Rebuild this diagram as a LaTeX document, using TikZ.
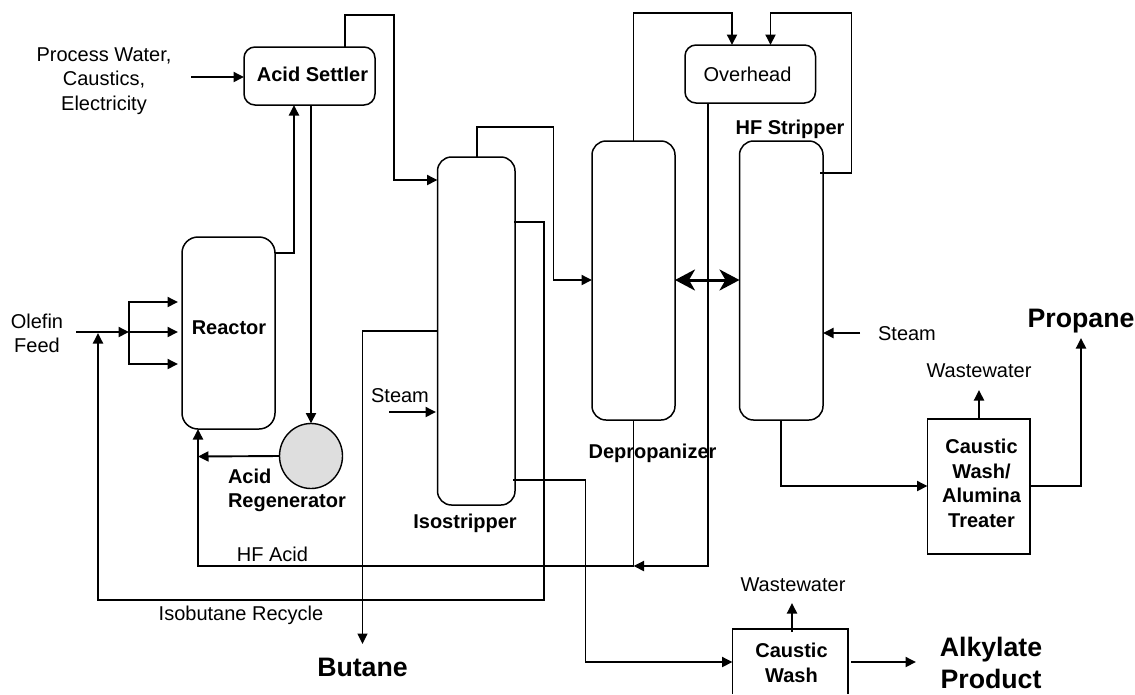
\documentclass[tikz,border=0pt]{standalone}
\usepackage{fontspec}
\setmainfont{Liberation Sans}
\usetikzlibrary{arrows.meta,calc,shapes.geometric}
\tikzset{
  every node/.style={inner sep=0pt,outer sep=0pt,align=center,font=\fontsize{20}{24.5}\selectfont},
  bold/.style={font=\fontsize{20}{24.5}\bfseries\selectfont},
  big/.style={font=\fontsize{26.7}{32}\bfseries\selectfont},
  vessel/.style={draw,line width=1.5pt,rounded corners=14pt},
  plain box/.style={draw,line width=1.6pt},
  flow/.style={line width=1.9pt,-{Triangle[length=10.5pt,width=10pt]}},
  pipe/.style={line width=1.9pt},
}
\newcommand{\boxat}[6]{\node[#1,minimum width=#4pt-#3pt,minimum height=#6pt-#5pt] (#2) at ({(#3+#4)/2},{(#5+#6)/2}) {};}
\begin{document}
\begin{tikzpicture}[x=1pt,y=-1pt]
\useasboundingbox (0,0) rectangle (1135,694);
% vessels
\boxat{vessel,rounded corners=11pt}{settler}{244}{375}{47}{105}
\boxat{vessel,rounded corners=11pt}{overhead}{685}{815.5}{45}{103}
\boxat{vessel,rounded corners=16pt}{reactor}{182}{275}{237}{429}
\boxat{vessel}{iso}{437.5}{515}{157}{505}
\boxat{vessel}{deprop}{592}{675}{141}{420}
\boxat{vessel}{hf}{739.5}{823}{141}{420}
\boxat{plain box}{treater}{927.5}{1030}{419}{554}
\node[draw,line width=1.4pt,fill=black!13,ellipse,minimum width=63pt,minimum height=65pt] (regen) at (311,456) {};
% caustic wash: its lower edge lies beyond the picture
\draw[plain box] (732.5,694) -- (732.5,629) -- (848,629) -- (848,694);
\coordinate (washW) at (732.5,662);
\coordinate (washN) at (792,632);
\coordinate (washE) at (851,662);
% labels
\node (lsettler) at (312.5,74) {\bfseries Acid Settler};
\node (lreactor) at (229,328) {\bfseries Reactor};
\node (lover) at (747.5,74) {Overhead};
\node[bold] (lhf) at (790,129) {HF Stripper};
\node[bold] (liso) at (465,523) {Isostripper};
\node[bold] (ldep) at (652.5,453) {Depropanizer};
\node[bold,align=left,anchor=west] (lregen) at (228,490.5) {Acid\\Regenerator};
\node (lwater) at (104,81) {Process Water,\\Caustics,\\Electricity};
\node (lolefin) at (37,333.5) {Olefin\\Feed};
\node (lsteam1) at (400,396) {Steam};
\node (lsteam2) at (907,334) {Steam};
\node (lhfacid) at (272.5,554) {HF Acid};
\node (lrecycle) at (241,615) {Isobutane Recycle};
\node (lww1) at (979,371) {Wastewater};
\node (lww2) at (793,585) {Wastewater};
\node[bold] (ltreater) at (981.5,483.5) {Caustic\\Wash/\\Alumina\\Treater};
\node[bold] (lwash) at (791.5,663) {Caustic\\Wash};
\node[big] (lpropane) at (1081,321) {Propane};
\node[big] (lbutane) at (362.5,667) {Butane};
\node[big] (lalk) at (991,663) {Alkylate\\Product};
% free ends
\coordinate (pw) at (191,77);
\coordinate (feed) at (76,332);
\coordinate (split) at (129,332);
\coordinate (s1) at (389,412);
\coordinate (s2) at (860,333);
\coordinate (ww1) at (979,390);
\coordinate (ww2) at (792,603);
\coordinate (alk) at (916,662);
\coordinate (prop) at (1081,338);
\coordinate (but) at (362.5,644);
\coordinate (hfjoin) at (633.5,566);
% connectors
\draw[flow] (pw) -- (settler.west |- pw);
\draw[flow] (345,47) -- (345,15) -- (394,15) -- (394,180) -- (iso.west |- 0,180);
\draw[flow] (reactor.east |- 0,253) -- (294,253) -- (294,105);
\draw[flow] (311,105) -- (regen.north);
\draw[flow] (regen.west) -- (198,456.5);
\draw[flow] (hfjoin) -- (198,566) -- (198,429);
\draw[flow] (feed) -- (split);
\draw[flow] (split) -- (129,302) -- (178,302);
\draw[flow] (split) -- (178,332);
\draw[flow] (split) -- (129,364) -- (178,364);
\draw[flow] (514,222) -- (544,222) -- (544,600) -- (98,600) -- (98,333);
\draw[flow,line width=1.6pt] (iso.west |- 0,331) -- (362.5,331) -- (but);
\draw[flow] (s1) -- (436,412);
\draw[flow] (477,157) -- (477,127) -- (553.5,127) -- (553.5,280) -- (deprop.west |- 0,280);
\draw[flow] (513,480) -- (585.5,480) -- (585.5,662) -- (washW);
\draw[flow] (deprop.north) -- (633.5,13) -- (732,13) -- (732,45);
\draw[flow] (820,173) -- (851.5,173) -- (851.5,13) -- (770.5,13) -- (770.5,45);
\draw[flow] (708,103) -- (708,566) -- (hfjoin);
\draw[pipe] (deprop.south) -- (hfjoin);
\draw[line width=3pt,{Stealth[length=20pt,width=21pt,inset=6pt]}-{Stealth[length=20pt,width=21pt,inset=6pt]}] (deprop.east |- 0,280) -- (hf.west |- 0,280);
\draw[flow] (s2) -- (hf.east |- s2);
\draw[flow] (hf.south) -- (781.25,486) -- (treater.west |- 0,486);
\draw[flow] (treater.east |- 0,486) -- (1081,486) -- (prop);
\draw[flow] (979,419) -- (ww1);
\draw[flow] (washN) -- (ww2);
\draw[flow] (washE) -- (alk);
\end{tikzpicture}
\end{document}
